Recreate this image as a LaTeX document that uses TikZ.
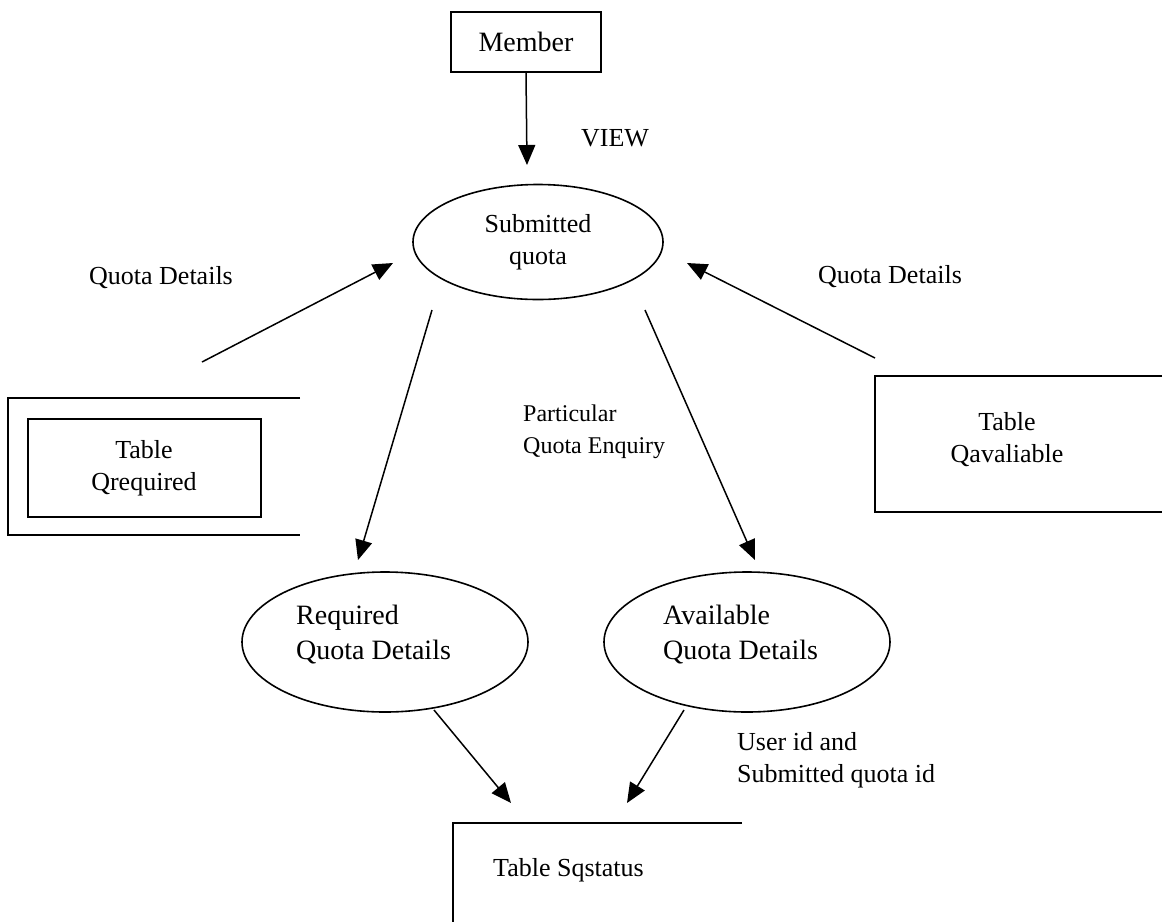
\documentclass[tikz,border=0pt]{standalone}
\usepackage{fontspec}
\setmainfont{Liberation Serif}
\usetikzlibrary{arrows.meta,shapes.geometric}
\begin{document}
\begin{tikzpicture}[x=1pt,y=-1pt,
  every node/.style={font=\fontsize{26}{32}\selectfont, inner sep=0pt},
  flow/.style={line width=1.5pt, -{Triangle[length=20pt,width=17pt]}},
  boxline/.style={line width=2pt},
  proc/.style={draw, ellipse, line width=1.6pt},
  lbl/.style={align=left}]
\useasboundingbox (0,0) rectangle (1168,922);

% external entity
\node[draw, boxline, minimum width=150pt, minimum height=60pt,
      font=\fontsize{28}{32}\selectfont] (member) at (526,42) {Member};

% processes
\node[proc, minimum width=250pt, minimum height=115pt, align=center] (sub) at (538,242) {Submitted\\quota};
\node[proc, minimum width=286pt, minimum height=140pt] (req) at (385,642) {};
\node[lbl, anchor=west, font=\fontsize{28}{35}\selectfont] (reqtxt) at (296,635) {Required\\Quota Details};
\node[proc, minimum width=286pt, minimum height=140pt] (avail) at (747,642) {};
\node[lbl, anchor=west, font=\fontsize{28}{35}\selectfont] (availtxt) at (663,635) {Available\\Quota Details};

% data store: Qrequired
\draw[boxline] (300,398) -- (8,398) -- (8,535) -- (300,535);
\node[draw, boxline, minimum width=233pt, minimum height=98pt, align=center] (qreq) at (144,468) {Table\\Qrequired};

% data store: Qavaliable
\draw[boxline] (1162,376) -- (875,376) -- (875,512) -- (1162,512);
\node[align=center] (qavail) at (1007,440) {Table\\Qavaliable};

% data store: Sqstatus
\draw[boxline] (742,823) -- (453,823) -- (453,922);
\node[anchor=west] (sq) at (493,870) {Table Sqstatus};

% connector end points
\coordinate (viewIn) at (527,165);
\coordinate (qreqOut) at (202,362);
\coordinate (subInL) at (393,263);
\coordinate (qavailOut) at (875,358);
\coordinate (subInR) at (687,263);
\coordinate (subOutL) at (432,310);
\coordinate (reqIn) at (358,560);
\coordinate (subOutR) at (645,310);
\coordinate (availIn) at (755,560);
\coordinate (reqOut) at (434,710);
\coordinate (sqInL) at (511,803);
\coordinate (availOut) at (684,710);
\coordinate (sqInR) at (627,803);

% flows
\draw[flow] (member.south) -- (viewIn);
\draw[flow] (qreqOut) -- (subInL);
\draw[flow] (qavailOut) -- (subInR);
\draw[flow] (subOutL) -- (reqIn);
\draw[flow] (subOutR) -- (availIn);
\draw[flow] (reqOut) -- (sqInL);
\draw[flow] (availOut) -- (sqInR);

% flow labels
\node (view) at (615,138) {VIEW};
\node (qdl) at (161,278) {Quota Details};
\node (qdr) at (890,277) {Quota Details};
\node[lbl, anchor=west, font=\fontsize{24}{32}\selectfont] (enq) at (523,432) {Particular\\Quota Enquiry};
\node[lbl, anchor=west] (uid) at (737,760) {User id and\\Submitted quota id};
\end{tikzpicture}
\end{document}
